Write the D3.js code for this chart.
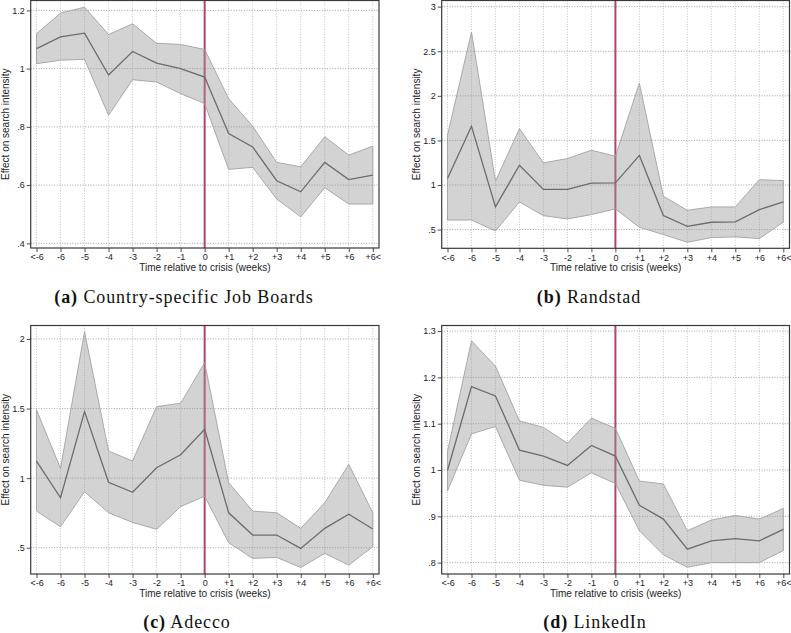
<!DOCTYPE html>
<html>
<head>
<meta charset="utf-8">
<script src="https://cdn.jsdelivr.net/npm/d3@7"></script>
<style>
  html, body { margin: 0; padding: 0; background: #fff; }
  svg { display: block; }
</style>
</head>
<body>
<svg id="chart" width="791" height="633"></svg>
<script>
// ---------------- DATA ----------------
const categories = ["<-6","-6","-5","-4","-3","-2","-1","0","+1","+2","+3","+4","+5","+6","+6<"];
const crisisCategory = "0";

// (a) Country-specific Job Boards
const jobBoardsEst   = [1.069,1.109,1.122,0.978,1.059,1.019,1.000,0.971,0.777,0.731,0.615,0.577,0.678,0.619,0.634];
const jobBoardsUpper = [1.120,1.191,1.211,1.117,1.154,1.087,1.083,1.066,0.897,0.802,0.678,0.663,0.766,0.703,0.734];
const jobBoardsLower = [1.017,1.029,1.032,0.840,0.962,0.954,0.914,0.880,0.654,0.661,0.552,0.491,0.591,0.535,0.535];
const jobBoardsTicks = [0.4,0.6,0.8,1,1.2];

// (b) Randstad
const randstadEst   = [1.073,1.659,0.755,1.222,0.950,0.950,1.020,1.024,1.332,0.657,0.537,0.582,0.586,0.724,0.810];
const randstadUpper = [1.558,2.715,1.043,1.632,1.248,1.297,1.390,1.323,2.142,0.873,0.716,0.754,0.754,1.060,1.049];
const randstadLower = [0.607,0.607,0.484,0.810,0.656,0.619,0.668,0.732,0.526,0.444,0.358,0.410,0.418,0.399,0.582];
const randstadTicks = [0.5,1,1.5,2,2.5,3];

// (c) Adecco
const adeccoEst   = [1.123,0.859,1.478,0.970,0.898,1.075,1.168,1.351,0.751,0.591,0.591,0.495,0.639,0.740,0.634];
const adeccoUpper = [1.490,1.070,2.053,1.195,1.123,1.514,1.538,1.830,0.967,0.763,0.751,0.639,0.823,1.099,0.751];
const adeccoLower = [0.763,0.651,0.902,0.751,0.682,0.632,0.795,0.871,0.536,0.423,0.430,0.358,0.459,0.375,0.507];
const adeccoTicks = [0.5,1,1.5,2];

// (d) LinkedIn
const linkedinEst   = [0.999,1.180,1.160,1.043,1.030,1.010,1.053,1.030,0.924,0.894,0.829,0.847,0.852,0.847,0.872];
const linkedinUpper = [1.040,1.279,1.224,1.106,1.092,1.058,1.112,1.090,0.976,0.970,0.869,0.892,0.902,0.894,0.917];
const linkedinLower = [0.955,1.078,1.094,0.978,0.967,0.963,0.994,0.971,0.869,0.817,0.790,0.800,0.800,0.800,0.826];
const linkedinTicks = [0.8,0.9,1,1.1,1.2,1.3];

const captionLetters = ["(a)","(b)","(c)","(d)"];
const captionNames = ["Country-specific Job Boards","Randstad","Adecco","LinkedIn"];
const yTitle = "Effect on search intensity";
const xTitle = "Time relative to crisis (weeks)";

// ---------------- LAYOUT ----------------
const panels = [
  {est: jobBoardsEst, hi: jobBoardsUpper, lo: jobBoardsLower, ticks: jobBoardsTicks,
   domain: [0.384, 1.234], left: 30.7, right: 379, top: 0.5, bottom: 248, capX: 184, capY: 303},
  {est: randstadEst, hi: randstadUpper, lo: randstadLower, ticks: randstadTicks,
   domain: [0.29, 3.069], left: 441.7, right: 789.5, top: 0.5, bottom: 248.3, capX: 589, capY: 303},
  {est: adeccoEst, hi: adeccoUpper, lo: adeccoLower, ticks: adeccoTicks,
   domain: [0.311, 2.097], left: 30.7, right: 379, top: 325.5, bottom: 574, capX: 187, capY: 628},
  {est: linkedinEst, hi: linkedinUpper, lo: linkedinLower, ticks: linkedinTicks,
   domain: [0.7755, 1.312], left: 441.7, right: 789.5, top: 325.5, bottom: 574, capX: 595, capY: 628}
];

const svg = d3.select("#chart");
const fmt = d => String(d).replace(/^0\./, ".");
const sans = "'Liberation Sans', Arial, Helvetica, sans-serif";
const serif = "'Liberation Serif', 'DejaVu Serif', serif";

panels.forEach((p, i) => {
  const x = d3.scalePoint().domain(categories).range([p.left + 5.8, p.right - 6.2]);
  const y = d3.scaleLinear().domain(p.domain).range([p.bottom, p.top]);
  const g = svg.append("g");

  // grid
  g.selectAll(".vg").data(categories).enter().append("line")
    .attr("x1", d => x(d)).attr("x2", d => x(d))
    .attr("y1", p.top).attr("y2", p.bottom)
    .attr("stroke", "#b4b4b4").attr("stroke-width", 0.8)
    .attr("stroke-dasharray", "1,1.6");
  g.selectAll(".hg").data(p.ticks).enter().append("line")
    .attr("x1", p.left).attr("x2", p.right)
    .attr("y1", d => y(d)).attr("y2", d => y(d))
    .attr("stroke", "#8a8a8a").attr("stroke-width", 0.8)
    .attr("stroke-dasharray", "1,1.6");

  // crisis line
  g.append("line")
    .attr("x1", x(crisisCategory)).attr("x2", x(crisisCategory))
    .attr("y1", p.top).attr("y2", p.bottom)
    .attr("stroke", "#b3456b").attr("stroke-width", 2);

  // confidence band
  const idx = d3.range(categories.length);
  const area = d3.area()
    .x(j => x(categories[j]))
    .y0(j => y(p.lo[j]))
    .y1(j => y(p.hi[j]));
  g.append("path").datum(idx).attr("d", area)
    .attr("fill", "rgba(150,150,150,0.42)")
    .attr("stroke", "#a2a2a2").attr("stroke-width", 0.9);

  // estimate line
  const line = d3.line().x(j => x(categories[j])).y(j => y(p.est[j]));
  g.append("path").datum(idx).attr("d", line)
    .attr("fill", "none").attr("stroke", "#6c6c6c").attr("stroke-width", 1.3);

  // frame
  g.append("rect")
    .attr("x", p.left).attr("y", p.top)
    .attr("width", p.right - p.left).attr("height", p.bottom - p.top)
    .attr("fill", "none").attr("stroke", "#3a3a3a").attr("stroke-width", 1.2);

  // axes
  const yAxis = d3.axisLeft(y).tickValues(p.ticks).tickFormat(fmt).tickSize(4).tickPadding(2);
  const ya = g.append("g").attr("transform", `translate(${p.left},0)`).call(yAxis);
  const xAxis = d3.axisBottom(x).tickSize(4).tickPadding(2);
  const xa = g.append("g").attr("transform", `translate(0,${p.bottom})`).call(xAxis);
  [ya, xa].forEach(a => {
    a.select(".domain").remove();
    a.selectAll(".tick line").attr("stroke", "#3a3a3a").attr("stroke-width", 0.9);
    a.selectAll(".tick text").attr("fill", "#222").style("font-family", sans).style("font-size", "9px");
  });

  // axis titles
  g.append("text")
    .attr("x", (p.left + p.right) / 2).attr("y", p.bottom + 23)
    .attr("text-anchor", "middle")
    .style("font-family", sans).style("font-size", "10px").attr("fill", "#222")
    .text(xTitle);
  g.append("text")
    .attr("transform", `translate(${p.left - 21.5},${(p.top + p.bottom) / 2}) rotate(-90)`)
    .attr("text-anchor", "middle")
    .style("font-family", sans).style("font-size", "10px").attr("fill", "#222")
    .text(yTitle);

  // caption
  const cap = g.append("text")
    .attr("x", p.capX).attr("y", p.capY)
    .attr("text-anchor", "middle")
    .style("font-family", serif).style("font-size", "18px")
    .style("letter-spacing", "0.9px").attr("fill", "#111");
  cap.append("tspan").style("font-weight", "bold").text(captionLetters[i]);
  cap.append("tspan").text(" " + captionNames[i]);
});
</script>
</body>
</html>
